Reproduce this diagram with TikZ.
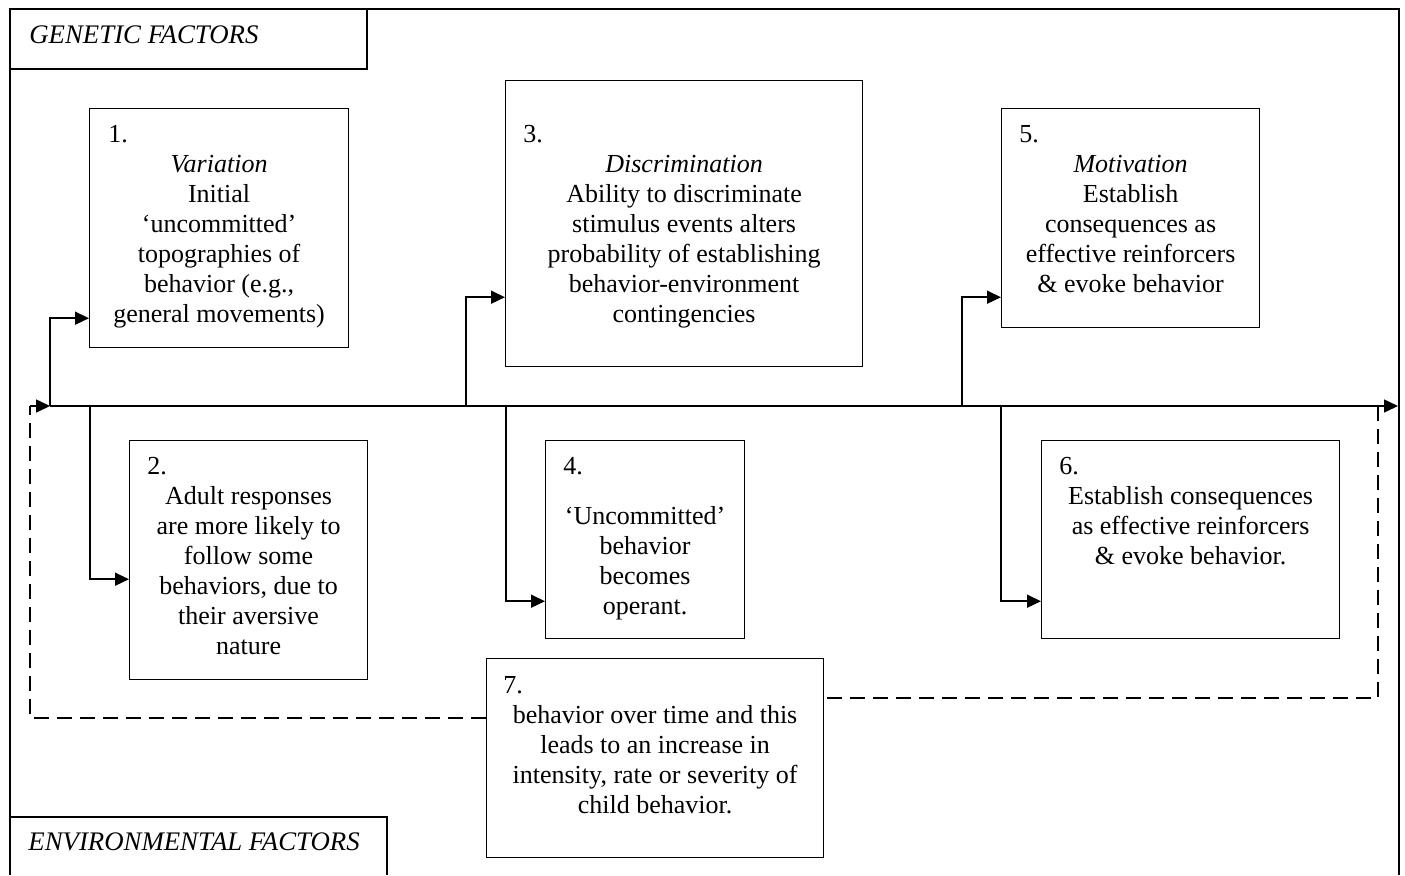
\documentclass[tikz,border=0pt]{standalone}
\usepackage{fontspec}
\setmainfont{Liberation Serif}
\usetikzlibrary{arrows.meta}
\begin{document}
\begin{tikzpicture}[x=0.5pt,y=-0.5pt,
  box/.style={draw,line width=0.6pt,anchor=north west,inner sep=0pt},
  txt/.style={anchor=north,align=center,inner sep=0pt,font=\fontsize{13}{15}\selectfont},
  num/.style={anchor=base west,inner sep=0pt,font=\fontsize{13}{15}\selectfont},
  factor/.style={anchor=base west,inner sep=0pt,font=\fontsize{13.4}{15}\selectfont\itshape},
  arr/.style={-{Triangle[length=7pt,width=6.5pt]},line width=0.8pt},
  loopline/.style={line width=0.8pt,dash pattern=on 7.5pt off 4pt}]
\useasboundingbox (0,0) rectangle (1405,875);
% frame and factor labels
\draw[line width=0.6pt] (10,875) |- (1399,9) -- (1399,875);
\draw[line width=0.6pt] (10,69) -| (367,9);
\draw[line width=0.6pt] (10,817) -| (387,875);
\node[factor] (gen) at (29,43.5) {GENETIC FACTORS};
\node[factor] (env) at (28,850) {ENVIRONMENTAL FACTORS};
% boxes
\node[box,minimum width=129.5pt,minimum height=119.5pt] (b1) at (89,108) {};
\node[box,minimum width=119pt,minimum height=119.5pt] (b2) at (129,440) {};
\node[box,minimum width=178.5pt,minimum height=143pt] (b3) at (505,80) {};
\node[box,minimum width=99.5pt,minimum height=99pt] (b4) at (545,440) {};
\node[box,minimum width=129pt,minimum height=109.5pt] (b5) at (1001,108) {};
\node[box,minimum width=149pt,minimum height=99pt] (b6) at (1041,440) {};
\node[box,minimum width=168.5pt,minimum height=99.5pt] (b7) at (486,658) {};
% numbers
\node[num] (n1) at (108,142) {1.};
\node[num] (n2) at (147,474) {2.};
\node[num] (n3) at (523,142) {3.};
\node[num] (n4) at (563,474) {4.};
\node[num] (n5) at (1019,142) {5.};
\node[num] (n6) at (1059,474) {6.};
\node[num] (n7) at (503,693) {7.};
% texts
\node[txt] (t1) at (b1.north |- 0,151) {\strut\emph{Variation}\\Initial\\`uncommitted'\\topographies of\\behavior (e.g.,\\general movements)};
\node[txt] (t2) at (b2.north |- 0,483) {\strut Adult responses\\are more likely to\\follow some\\behaviors, due to\\their aversive\\nature};
\node[txt] (t3) at (b3.north |- 0,151) {\strut\emph{Discrimination}\\Ability to discriminate\\stimulus events alters\\probability of establishing\\behavior-environment\\contingencies};
\node[txt] (t4) at (b4.north |- 0,503) {\strut`Uncommitted'\\behavior\\becomes\\operant.};
\node[txt] (t5) at (b5.north |- 0,151) {\strut\emph{Motivation}\\Establish\\consequences as\\effective reinforcers\\\& evoke behavior};
\node[txt] (t6) at (b6.north |- 0,483) {\strut Establish consequences\\as effective reinforcers\\\& evoke behavior.};
\node[txt] (t7) at (b7.north |- 0,702) {\strut behavior over time and this\\leads to an increase in\\intensity, rate or severity of\\child behavior.};
% time line
\coordinate (l) at (30,406);
\coordinate (r) at (1378,406);
\coordinate (m1) at (1398,406);
\coordinate (j1) at (50,406);
\coordinate (j2) at (90,406);
\coordinate (j3) at (466,406);
\coordinate (j4) at (506,406);
\coordinate (j5) at (962,406);
\coordinate (j6) at (1001,406);
\draw[arr] (j1)--(m1);
\draw[arr] (l)--(j1);
\draw[arr] (j1) |- ([yshift=15pt]b1.south west);
\draw[arr] (j2) |- ([yshift=50.5pt]b2.south west);
\draw[arr] (j3) |- ([yshift=35pt]b3.south west);
\draw[arr] (j4) |- ([yshift=19pt]b4.south west);
\draw[arr] (j5) |- ([yshift=15.5pt]b5.south west);
\draw[arr] (j6) |- ([yshift=19pt]b6.south west);
% feedback loop
\draw[loopline] (r) |- (b7.east |- 0,698);
\draw[loopline] (b7.west |- 0,718) -| (l);
\end{tikzpicture}
\end{document}
